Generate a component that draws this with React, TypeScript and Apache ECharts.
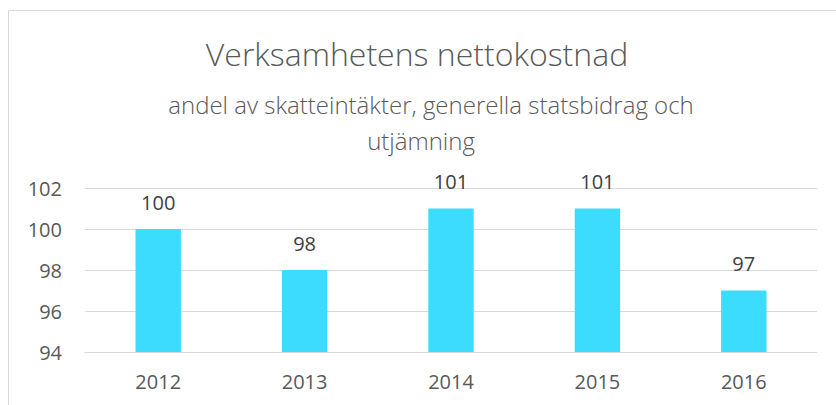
import React, { useEffect, useRef } from "react";
import * as echarts from "echarts";

const categories = ["2012", "2013", "2014", "2015", "2016"];
const values = [100, 98, 101, 101, 97];
const titleText = "Verksamhetens nettokostnad";
const subtitleLines = ["andel av skatteintäkter, generella statsbidrag och", "utjämning"];
const yMin = 94;
const yMax = 102;
const yInterval = 2;

export default function App() {
  const ref = useRef<HTMLDivElement>(null);
  useEffect(() => {
    document.body.style.margin = "0";
    const chart = echarts.init(ref.current!, null, { renderer: "svg" });
    const font = "'Open Sans', 'Noto Sans', sans-serif";
    chart.setOption({
      animation: false,
      backgroundColor: "#ffffff",
      graphic: [
        {
          type: "rect",
          shape: { x: 8.5, y: 10.5, width: 900, height: 500 },
          style: { fill: "none", stroke: "#d9d9d9", lineWidth: 1 },
          silent: true,
        },
        {
          type: "text",
          x: 417,
          y: 53,
          style: {
            text: titleText,
            fontFamily: font,
            fontSize: 32,
            fontWeight: 300,
            fill: "#595959",
            textAlign: "center",
            textVerticalAlign: "middle",
          },
        },
        {
          type: "text",
          x: 431,
          y: 104,
          style: {
            text: subtitleLines[0],
            fontFamily: font,
            fontSize: 24,
            fontWeight: 300,
            fill: "#595959",
            textAlign: "center",
            textVerticalAlign: "middle",
          },
        },
        {
          type: "text",
          x: 421,
          y: 140,
          style: {
            text: subtitleLines[1],
            fontFamily: font,
            fontSize: 24,
            fontWeight: 300,
            fill: "#595959",
            textAlign: "center",
            textVerticalAlign: "middle",
          },
        },
      ],
      grid: { left: 85, right: 19, top: 188, bottom: 53, containLabel: false },
      xAxis: {
        type: "category",
        data: categories,
        axisLine: { lineStyle: { color: "#d9d9d9", width: 1 } },
        axisTick: { show: false },
        axisLabel: { color: "#595959", fontSize: 20, fontFamily: font, margin: 19 },
      },
      yAxis: {
        type: "value",
        min: yMin,
        max: yMax,
        interval: yInterval,
        axisLine: { show: false },
        axisTick: { show: false },
        splitLine: { lineStyle: { color: "#d9d9d9", width: 1 } },
        axisLabel: { color: "#595959", fontSize: 20, fontFamily: font, margin: 23 },
      },
      series: [
        {
          type: "bar",
          data: values,
          barWidth: "31%",
          itemStyle: { color: "#3cdcff" },
          label: {
            show: true,
            position: "top",
            distance: 17,
            color: "#404040",
            fontSize: 20,
            fontFamily: font,
          },
        },
      ],
    });
    return () => chart.dispose();
  }, []);
  return <div ref={ref} style={{ width: 836, height: 405 }} />;
}
